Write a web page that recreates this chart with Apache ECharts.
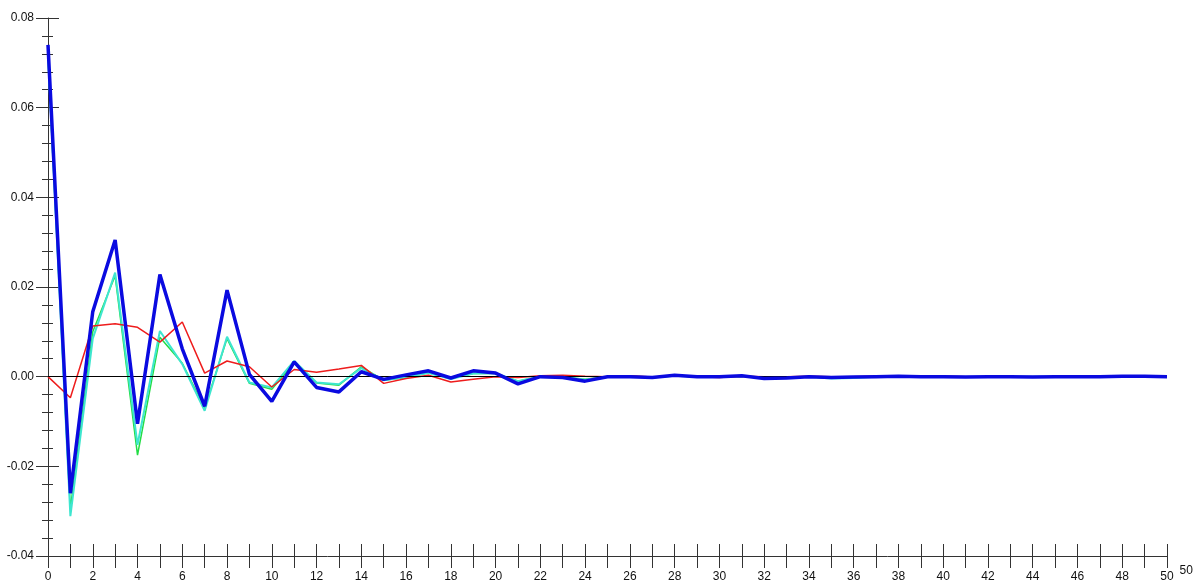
<!DOCTYPE html>
<html>
<head>
<meta charset="utf-8">
<script src="https://cdn.jsdelivr.net/npm/echarts@6/dist/echarts.min.js"></script>
<style>
html,body{margin:0;padding:0;background:#fff;}
#chart{width:1203px;height:583px;}
</style>
</head>
<body>
<div id="chart"></div>
<script>
const lags = Array.from({length: 51}, (_, i) => i);
const greenVals = [0.071,-0.0295,0.0100,0.0225,-0.0175,0.0088,0.0030,-0.0070,0.0085,-0.0015,-0.0028,0.0031,-0.0014,-0.0019,0.0022,-0.0008,-0.0002,0.0009,-0.0004,0.0007,0.0007,-0.0010,0.0000,-0.0001,-0.0006,0.0000,0.0001,-0.0002,0.0002,0.0000,-0.0001,0.0001,-0.0002,-0.0002,0.0000,-0.0003,-0.0002,0.0000,0.0000,0.0000,0.0000,-0.0001,0.0000,0.0000,0.0000,0.0000,0.0000,0.0000,0.0000,0.0000,0.0000];
const cyanVals = [0.072,-0.0311,0.0085,0.0232,-0.0152,0.0102,0.0028,-0.0076,0.0089,-0.0013,-0.0024,0.0035,-0.0013,-0.0017,0.0019,-0.0008,-0.0001,0.0008,-0.0005,0.0007,0.0008,-0.0010,0.0001,-0.0001,-0.0007,0.0000,0.0001,-0.0002,0.0002,0.0000,-0.0001,0.0001,-0.0002,-0.0002,0.0000,-0.0004,-0.0003,0.0000,0.0000,0.0000,0.0000,-0.0001,0.0000,0.0000,0.0000,0.0000,0.0000,0.0000,0.0000,0.0000,0.0000];
const blueVals = [0.074,-0.0260,0.0145,0.0305,-0.0105,0.0228,0.0062,-0.0066,0.0193,0.0005,-0.0055,0.0033,-0.0024,-0.0034,0.0011,-0.0006,0.0004,0.0013,-0.0003,0.0013,0.0008,-0.0016,0.0000,-0.0002,-0.0010,0.0000,0.0000,-0.0002,0.0003,0.0000,0.0000,0.0002,-0.0004,-0.0003,0.0000,-0.0002,-0.0001,0.0000,0.0001,0.0000,0.0000,-0.0001,0.0000,0.0000,-0.0001,0.0000,0.0000,0.0000,0.0001,0.0001,0.0000];
const redVals = [0.0000,-0.0047,0.0113,0.0118,0.0110,0.0077,0.0122,0.0008,0.0035,0.0022,-0.0023,0.0016,0.0010,0.0017,0.0025,-0.0015,-0.0004,0.0003,-0.0012,-0.0006,0.0000,-0.0002,0.0002,0.0003,0.0001,0.0000,0.0002,-0.0001,0.0002,0.0000,-0.0002,0.0001,0.0000,0.0000,0.0001,0.0000,0.0000,0.0001,0.0000,0.0000,0.0001,0.0000,0.0000,0.0000,0.0000,0.0000,0.0000,0.0000,0.0000,0.0000,0.0000];
const yTickLabels = ['-0.04','-0.02','0.00','0.02','0.04','0.06','0.08'];

const pairs = vals => lags.map((x, i) => [x, vals[i]]);
const font = {fontFamily: 'Liberation Sans, Arial, sans-serif', fontSize: 12, color: '#111'};
const axisCol = '#333';

const chart = echarts.init(document.getElementById('chart'), null, {renderer: 'canvas'});
chart.setOption({
  animation: false,
  backgroundColor: '#fff',
  grid: {left: 48, right: 36, top: 18, bottom: 25, containLabel: false},
  xAxis: [
    {
      type: 'value', min: 0, max: 50, interval: 2, position: 'bottom',
      name: '50', nameLocation: 'end', nameGap: 10,
      nameTextStyle: Object.assign({}, font, {verticalAlign: 'top', align: 'left', padding: [9, 0, 0, 0]}),
      axisLine: {show: true, onZero: false, lineStyle: {color: axisCol, width: 1}},
      axisTick: {show: true, inside: false, length: 12, lineStyle: {color: axisCol}},
      minorTick: {show: true, splitNumber: 2, length: 12, lineStyle: {color: axisCol}},
      axisLabel: Object.assign({}, font, {margin: 15, showMinLabel: true, showMaxLabel: true}),
      splitLine: {show: false}
    },
    {
      type: 'value', min: 0, max: 50, interval: 2, position: 'bottom',
      axisLine: {show: false, onZero: false},
      axisTick: {show: true, inside: true, length: 12, lineStyle: {color: axisCol}},
      minorTick: {show: true, splitNumber: 2, length: 12, lineStyle: {color: axisCol}},
      axisLabel: {show: false},
      splitLine: {show: false}
    }
  ],
  yAxis: [
    {
      type: 'value', min: -0.04, max: 0.08, interval: 0.02, position: 'left',
      axisLine: {show: true, onZero: false, lineStyle: {color: axisCol, width: 1}},
      axisTick: {show: true, inside: false, length: 12, lineStyle: {color: axisCol}},
      minorTick: {show: true, splitNumber: 5, length: 6, lineStyle: {color: axisCol}},
      axisLabel: Object.assign({}, font, {margin: 14, formatter: (v) => {
        const idx = Math.round((v + 0.04) / 0.02);
        return yTickLabels[idx] !== undefined ? yTickLabels[idx] : v.toFixed(2);
      }}),
      splitLine: {show: false}
    },
    {
      type: 'value', min: -0.04, max: 0.08, interval: 0.02, position: 'left',
      axisLine: {show: false, onZero: false},
      axisTick: {show: true, inside: true, length: 11, lineStyle: {color: axisCol}},
      minorTick: {show: true, splitNumber: 5, length: 5, lineStyle: {color: axisCol}},
      axisLabel: {show: false},
      splitLine: {show: false}
    }
  ],
  series: [
    {
      type: 'line', name: 'green', data: pairs(greenVals), showSymbol: false, z: 2,
      lineStyle: {color: '#22dd44', width: 1.5},
      markLine: {
        silent: true, symbol: ['none', 'none'], label: {show: false},
        lineStyle: {color: '#000', width: 1, type: 'solid'},
        data: [{yAxis: 0}]
      }
    },
    {type: 'line', name: 'cyan', data: pairs(cyanVals), showSymbol: false, z: 3,
      lineStyle: {color: '#3ee6cf', width: 2}},
    {type: 'line', name: 'red', data: pairs(redVals), showSymbol: false, z: 4,
      lineStyle: {color: '#ee1c1c', width: 1.5}},
    {type: 'line', name: 'blue', data: pairs(blueVals), showSymbol: false, z: 5,
      lineStyle: {color: '#0a0ae0', width: 3.5}}
  ]
});
</script>
</body>
</html>
